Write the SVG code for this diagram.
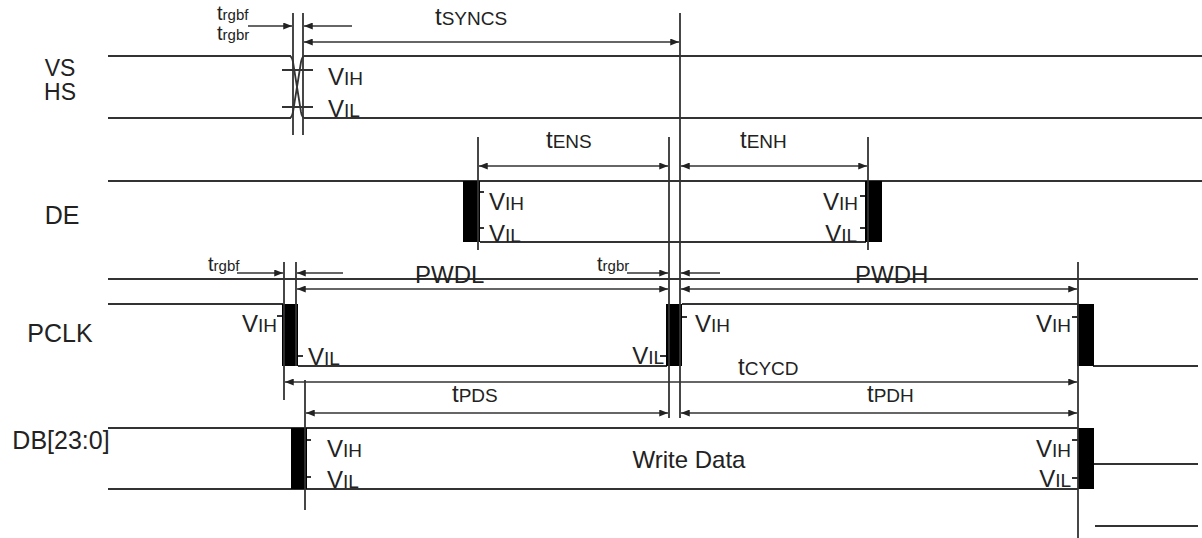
<svg xmlns="http://www.w3.org/2000/svg" width="1202" height="538" viewBox="0 0 1202 538">
<style>
text{font-family:"Liberation Sans",Arial,sans-serif;fill:#222}
.lb{font-size:25px;text-anchor:middle}
.big{font-size:24px}
.sub{font-size:19px}
.tb{font-size:20px}
.ts{font-size:15px}
.ln{stroke:#333;stroke-width:1.8;fill:none}
.ar{stroke:#333;stroke-width:1.6;fill:none}
.blk{fill:#000}
.end{text-anchor:end}
</style>
<defs>
<marker id="ah" viewBox="0 0 10 8" refX="10" refY="4" markerWidth="10" markerHeight="7" markerUnits="userSpaceOnUse" orient="auto-start-reverse">
<path d="M0,0 L10,4 L0,8 z" fill="#222"/>
</marker>
</defs>
<rect width="1202" height="538" fill="#fff"/>

<g id="signal-labels">
<text class="lb" x="60" y="76" style="font-size:23px">VS</text>
<text class="lb" x="60" y="100" style="font-size:23px">HS</text>
<text class="lb" x="62" y="224">DE</text>
<text class="lb" x="60" y="342">PCLK</text>
<text class="lb" x="61" y="449">DB[23:0]</text>
</g>

<g id="vs-hs">
<path class="ln" d="M108,56 H291 M304,56 H1202 M108,118 H291 M304,118 H1202"/>
<path class="ln" d="M290,56 Q292,57 293,62 L301,112 Q302,117 304,118 M304,56 Q302,57 301,62 L293,112 Q292,117 290,118"/>
<path class="ln" d="M293,13 V135 M303,13 V135"/>
<path class="ln" d="M282,70 H313 M282,107 H313"/>
<text x="328" y="85"><tspan class="big">V</tspan><tspan class="sub">IH</tspan></text>
<text x="328" y="117"><tspan class="big">V</tspan><tspan class="sub">IL</tspan></text>
</g>

<g id="de">
<path class="ln" d="M108,181 H1202 M480,242 H866"/>
<rect class="blk" x="463" y="181" width="17" height="61"/>
<rect class="blk" x="865" y="181" width="17" height="61"/>
<path class="ln" d="M480,192 H484 M480,228 H484 M860,196 H865 M860,228 H865" stroke-width="1.2"/>
<text x="489" y="210"><tspan class="big">V</tspan><tspan class="sub">IH</tspan></text>
<text x="489" y="242"><tspan class="big">V</tspan><tspan class="sub">IL</tspan></text>
<text class="end" x="858" y="210"><tspan class="big">V</tspan><tspan class="sub">IH</tspan></text>
<text class="end" x="857" y="242"><tspan class="big">V</tspan><tspan class="sub">IL</tspan></text>
</g>

<g id="pclk">
<path class="ln" d="M108,279 H1198 M108,304 H283 M298,366 H667 M682,304 H1078 M1093,366 H1198"/>
<rect class="blk" x="282" y="304" width="16" height="62"/>
<rect class="blk" x="666" y="304" width="16" height="62"/>
<rect class="blk" x="1077" y="304" width="17" height="62"/>
<path class="ln" d="M277,316 H282 M298,356 H303 M660,356 H666 M682,317 H687 M1072,317 H1077" stroke-width="1.2"/>
<text class="end" x="277" y="332"><tspan class="big">V</tspan><tspan class="sub">IH</tspan></text>
<text x="308" y="365"><tspan class="big">V</tspan><tspan class="sub">IL</tspan></text>
<text class="end" x="664" y="364"><tspan class="big">V</tspan><tspan class="sub">IL</tspan></text>
<text x="695" y="332"><tspan class="big">V</tspan><tspan class="sub">IH</tspan></text>
<text class="end" x="1071" y="332"><tspan class="big">V</tspan><tspan class="sub">IH</tspan></text>
</g>

<g id="db">
<path class="ln" d="M108,428 H1078 M108,489 H1078 M1094,464 H1198 M1095,526 H1198"/>
<rect class="blk" x="291" y="428" width="16" height="61"/>
<rect class="blk" x="1078" y="428" width="16" height="61"/>
<path class="ln" d="M307,440 H311 M307,477 H311 M1072,440 H1078 M1072,478 H1078" stroke-width="1.2"/>
<text x="327" y="457"><tspan class="big">V</tspan><tspan class="sub">IH</tspan></text>
<text x="327" y="488"><tspan class="big">V</tspan><tspan class="sub">IL</tspan></text>
<text class="end" x="1071" y="457"><tspan class="big">V</tspan><tspan class="sub">IH</tspan></text>
<text class="end" x="1071" y="487"><tspan class="big">V</tspan><tspan class="sub">IL</tspan></text>
<text x="689" y="468" style="font-size:24px;text-anchor:middle">Write Data</text>
</g>

<g id="connectors">
<path class="ln" d="M680,13 V418 M669,137 V418 M478,137 V250 M868,137 V250 M284,262 V400 M296,262 V366 M1078,262 V538 M305,380 V510"/>
<path class="ar" d="M248,26 H292" marker-end="url(#ah)"/>
<path class="ar" d="M352,26 H304" marker-end="url(#ah)"/>
<path class="ar" d="M304,42 H679" marker-start="url(#ah)" marker-end="url(#ah)"/>
<path class="ar" d="M479,166 H668" marker-start="url(#ah)" marker-end="url(#ah)"/>
<path class="ar" d="M681,166 H867" marker-start="url(#ah)" marker-end="url(#ah)"/>
<path class="ar" d="M237,273 H283" marker-end="url(#ah)"/>
<path class="ar" d="M343,273 H297" marker-end="url(#ah)"/>
<path class="ar" d="M297,289 H668" marker-start="url(#ah)" marker-end="url(#ah)"/>
<path class="ar" d="M627,273 H668" marker-end="url(#ah)"/>
<path class="ar" d="M720,273 H681" marker-end="url(#ah)"/>
<path class="ar" d="M681,289 H1077" marker-start="url(#ah)" marker-end="url(#ah)"/>
<path class="ar" d="M285,382 H1077" marker-start="url(#ah)" marker-end="url(#ah)"/>
<path class="ar" d="M306,413 H668" marker-start="url(#ah)" marker-end="url(#ah)"/>
<path class="ar" d="M681,413 H1077" marker-start="url(#ah)" marker-end="url(#ah)"/>
</g>

<g id="timing-labels">
<text x="217" y="20"><tspan class="tb">t</tspan><tspan class="ts">rgbf</tspan></text>
<text x="217" y="40"><tspan class="tb">t</tspan><tspan class="ts">rgbr</tspan></text>
<text x="435" y="25"><tspan class="big">t</tspan><tspan class="sub">SYNCS</tspan></text>
<text x="546" y="148"><tspan class="big">t</tspan><tspan class="sub">ENS</tspan></text>
<text x="740" y="148"><tspan class="big">t</tspan><tspan class="sub">ENH</tspan></text>
<text x="208" y="271"><tspan class="tb">t</tspan><tspan class="ts">rgbf</tspan></text>
<text x="597" y="271"><tspan class="tb">t</tspan><tspan class="ts">rgbr</tspan></text>
<text x="415" y="283" style="font-size:24px">PWDL</text>
<text x="855" y="283" style="font-size:24px">PWDH</text>
<text x="738" y="375"><tspan class="big">t</tspan><tspan class="sub">CYCD</tspan></text>
<text x="452" y="402"><tspan class="big">t</tspan><tspan class="sub">PDS</tspan></text>
<text x="867" y="402"><tspan class="big">t</tspan><tspan class="sub">PDH</tspan></text>
</g>
</svg>
